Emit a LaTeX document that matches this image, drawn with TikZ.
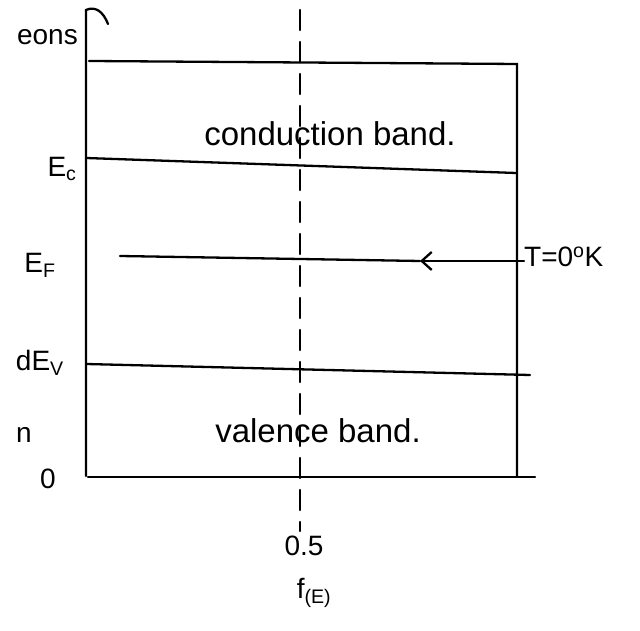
\documentclass[tikz,border=0pt]{standalone}
\usepackage{fontspec}
\setmainfont{Liberation Sans}
\usetikzlibrary{arrows.meta}
\begin{document}
\begin{tikzpicture}[x=1pt,y=1pt,
  ln/.style={line width=2.3pt,line cap=round},
  lbl/.style={inner sep=0pt,font=\fontsize{28}{30}\selectfont},
  big/.style={inner sep=0pt,font=\fontsize{33}{36}\selectfont}]
\useasboundingbox (0,0) rectangle (640,631);
% coordinates (y = 631 - image y)
\coordinate (axtop) at (86,621);
\coordinate (axbot) at (86,155);
\coordinate (tl) at (89,570);
\coordinate (tr) at (517,567);
\coordinate (rb) at (517,155);
\coordinate (ecl) at (86,473);
\coordinate (ecr) at (516,458);
\coordinate (efl) at (120,375);
\coordinate (efa) at (420,370);
\coordinate (efr) at (524,370);
\coordinate (evl) at (86,267);
\coordinate (evr) at (530,256);
\coordinate (bl) at (88,154);
\coordinate (br) at (535,154);
\coordinate (dtop) at (300,621);
\coordinate (dbot) at (300,100);
% axis and box
\draw[ln] (axbot) -- (axtop) .. controls (95,625) and (103,620) .. (108,607);
\draw[ln] (tl) -- (tr) -- (rb);
\draw[ln] (ecl) -- (ecr);
\draw[ln,-{Straight Barb[length=10pt,width=18pt]}] (efr) -- (efa);
\draw[ln] (efa) -- (efl);
\draw[ln] (evl) -- (evr);
\draw[ln] (bl) -- (br);
\draw[ln,dash pattern=on 20pt off 12pt] (dtop) -- (dbot);
% labels
\node[lbl,anchor=east] (eons) at (78,594) {eons};
\node[lbl] (ec) at (62,462) {E\textsubscript{c}};
\node[lbl] (ef) at (40,366) {E\textsubscript{F}};
\node[lbl,anchor=east] (dev) at (64,268) {dE\textsubscript{V}};
\node[lbl,anchor=east] (nn) at (32,196) {n};
\node[lbl] (zero) at (48,152) {0};
\node[big] (cb) at (330,497) {conduction band.};
\node[big] (vb) at (318,200) {valence band.};
\node[lbl,anchor=west] (temp) at (524,374) {T=0\textsuperscript{o}K};
\node[lbl] (half) at (304,85) {0.5};
\node[lbl] (fe) at (314,38) {f\textsubscript{(E)}};
\end{tikzpicture}
\end{document}
